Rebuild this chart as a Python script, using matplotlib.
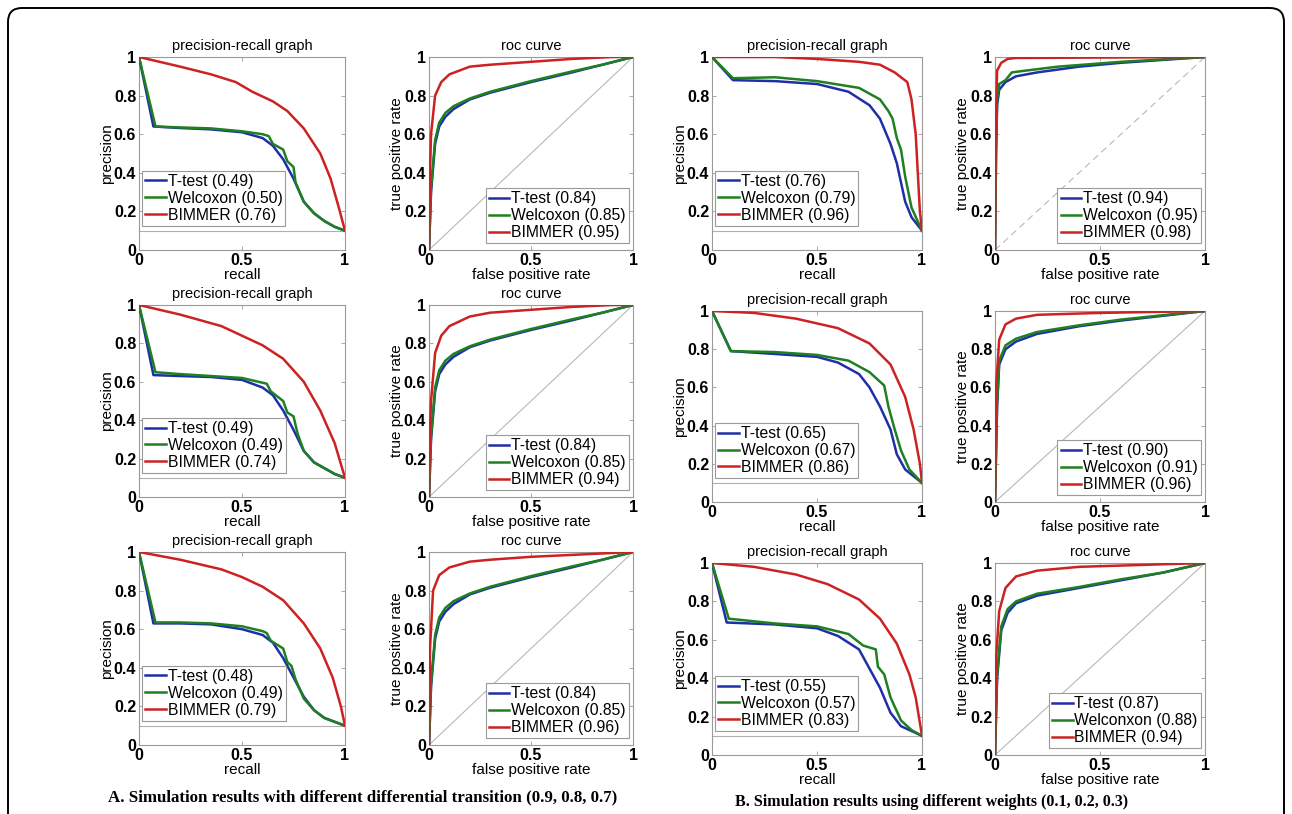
import matplotlib
matplotlib.use("Agg")
import matplotlib.pyplot as plt
from matplotlib.patches import FancyBboxPatch

W, H = 1292, 814
plt.rcParams['font.family'] = ['Liberation Sans', 'DejaVu Sans']

# ---------------- data ----------------
SERIES = ["T-test", "Welcoxon", "BIMMER"]
COLORS = ["#1f2fa8", "#1e8020", "#cc2222"]
PR_BASELINE = 0.1

# ---- A: differential transition 0.9 / 0.8 / 0.7 ----
A1_PR_T = ([0, .07, .2, .35, .5, .6, .65, .7, .75, .8, .85, .9, .95, 1],
           [1, .64, .632, .625, .61, .58, .54, .47, .37, .25, .19, .15, .12, .1])
A1_PR_W = ([0, .08, .2, .35, .5, .6, .63, .65, .7, .72, .75, .76, .8, .85, .9, .95, 1],
           [1, .64, .635, .63, .615, .6, .59, .55, .52, .46, .43, .35, .25, .19, .15, .12, .1])
A1_PR_B = ([0, .2, .35, .47, .55, .65, .72, .8, .88, .93, .97, 1],
           [1, .95, .91, .87, .82, .77, .72, .63, .5, .37, .22, .1])
A1_ROC_T = ([0, .01, .03, .05, .08, .12, .2, .3, .5, .7, .85, 1],
            [0, .3, .55, .64, .69, .73, .78, .815, .87, .92, .96, 1])
A1_ROC_W = ([0, .01, .03, .05, .08, .12, .2, .3, .5, .7, .85, 1],
            [0, .32, .57, .66, .71, .745, .785, .82, .875, .925, .96, 1])
A1_ROC_B = ([0, .005, .01, .03, .06, .1, .2, .3, .5, .7, .9, 1],
            [0, .4, .6, .8, .87, .91, .95, .96, .975, .99, 1, 1])

A2_PR_T = ([0, .07, .2, .35, .5, .6, .65, .7, .75, .8, .85, .9, .95, 1],
           [1, .635, .63, .625, .61, .57, .53, .45, .35, .24, .18, .15, .12, .1])
A2_PR_W = ([0, .08, .2, .35, .5, .58, .62, .64, .7, .72, .75, .77, .8, .85, .9, .95, 1],
           [1, .65, .64, .63, .62, .6, .59, .55, .5, .44, .42, .33, .24, .18, .15, .12, .1])
A2_PR_B = ([0, .2, .4, .5, .6, .7, .8, .88, .95, 1],
           [1, .95, .89, .84, .79, .72, .6, .45, .28, .1])
A2_ROC_T = A1_ROC_T
A2_ROC_W = A1_ROC_W
A2_ROC_B = ([0, .005, .01, .03, .06, .1, .2, .3, .5, .7, .9, 1],
            [0, .35, .5, .75, .84, .89, .94, .96, .975, .99, 1, 1])

A3_PR_T = ([0, .07, .2, .35, .5, .6, .65, .7, .75, .8, .85, .9, .95, 1],
           [1, .63, .63, .625, .6, .57, .53, .45, .35, .25, .18, .14, .12, .1])
A3_PR_W = ([0, .08, .2, .35, .5, .6, .62, .64, .7, .72, .74, .76, .8, .85, .9, .95, 1],
           [1, .635, .635, .63, .615, .59, .58, .54, .5, .43, .41, .34, .24, .18, .14, .12, .1])
A3_PR_B = ([0, .2, .4, .5, .6, .7, .8, .88, .94, .98, 1],
           [1, .96, .91, .87, .82, .75, .63, .5, .35, .2, .1])
A3_ROC_T = A1_ROC_T
A3_ROC_W = A1_ROC_W
A3_ROC_B = ([0, .005, .02, .05, .1, .2, .3, .5, .8, 1],
            [0, .5, .8, .88, .92, .95, .96, .975, .99, 1])

# ---- B: weights 0.1 / 0.2 / 0.3 ----
B1_PR_T = ([0, .1, .3, .5, .65, .75, .8, .85, .88, .9, .92, .95, 1],
           [1, .88, .875, .86, .82, .75, .68, .55, .45, .35, .25, .17, .1])
B1_PR_W = ([0, .1, .3, .5, .7, .8, .84, .86, .88, .9, .92, .95, 1],
           [1, .89, .895, .875, .84, .78, .72, .68, .58, .52, .38, .22, .1])
B1_PR_B = ([0, .3, .5, .7, .8, .87, .93, .95, .97, .98, .99, 1],
           [1, 1, .99, .975, .96, .92, .87, .78, .6, .4, .2, .1])
B1_ROC_T = ([0, .005, .01, .02, .05, .1, .2, .4, .6, .8, 1],
            [0, .5, .75, .83, .87, .9, .92, .95, .97, .985, 1])
B1_ROC_W = ([0, .005, .01, .02, .05, .08, .15, .3, .6, 1],
            [0, .5, .78, .86, .88, .92, .93, .95, .975, 1])
B1_ROC_B = ([0, .003, .01, .03, .06, .1, 1],
            [0, .6, .93, .97, .99, .995, 1])

B2_PR_T = ([0, .09, .3, .5, .6, .7, .75, .8, .85, .88, .92, 1],
           [1, .79, .775, .76, .73, .67, .6, .5, .38, .25, .17, .1])
B2_PR_W = ([0, .09, .3, .5, .65, .75, .82, .84, .87, .9, .94, 1],
           [1, .79, .785, .77, .74, .68, .61, .5, .38, .27, .17, .1])
B2_PR_B = ([0, .2, .4, .6, .75, .85, .92, .96, .99, 1],
           [1, .99, .96, .91, .83, .72, .55, .38, .2, .1])
B2_ROC_T = ([0, .01, .02, .05, .1, .2, .4, .6, .8, 1],
            [0, .5, .72, .8, .84, .88, .92, .95, .975, 1])
B2_ROC_W = ([0, .01, .02, .05, .1, .2, .4, .6, .8, 1],
            [0, .52, .74, .82, .855, .89, .925, .955, .978, 1])
B2_ROC_B = ([0, .005, .02, .05, .1, .2, .5, 1],
            [0, .6, .85, .93, .96, .98, .99, 1])

B3_PR_T = ([0, .07, .3, .5, .6, .7, .75, .8, .85, .9, 1],
           [1, .69, .68, .66, .62, .55, .45, .35, .22, .15, .1])
B3_PR_W = ([0, .08, .3, .5, .65, .72, .78, .79, .82, .85, .9, .95, 1],
           [1, .71, .685, .67, .63, .57, .55, .46, .42, .3, .18, .13, .1])
B3_PR_B = ([0, .2, .4, .55, .7, .8, .88, .94, .97, 1],
           [1, .98, .94, .89, .81, .71, .58, .42, .3, .1])
B3_ROC_T = ([0, .01, .03, .06, .1, .2, .4, .6, .8, 1],
            [0, .4, .65, .74, .79, .83, .87, .91, .95, 1])
B3_ROC_W = ([0, .01, .03, .06, .1, .2, .4, .6, .8, 1],
            [0, .42, .67, .76, .8, .84, .875, .915, .95, 1])
B3_ROC_B = ([0, .005, .02, .05, .1, .2, .4, .7, 1],
            [0, .5, .75, .87, .93, .96, .98, .99, 1])

# legend AUC values
A1_PR_AUC, A1_ROC_AUC = [0.49, 0.50, 0.76], [0.84, 0.85, 0.95]
A2_PR_AUC, A2_ROC_AUC = [0.49, 0.49, 0.74], [0.84, 0.85, 0.94]
A3_PR_AUC, A3_ROC_AUC = [0.48, 0.49, 0.79], [0.84, 0.85, 0.96]
B1_PR_AUC, B1_ROC_AUC = [0.76, 0.79, 0.96], [0.94, 0.95, 0.98]
B2_PR_AUC, B2_ROC_AUC = [0.65, 0.67, 0.86], [0.90, 0.91, 0.96]
B3_PR_AUC, B3_ROC_AUC = [0.55, 0.57, 0.83], [0.87, 0.88, 0.94]
B3_ROC_NAMES = ["T-test", "Welconxon", "BIMMER"]

CAPTION_A = "A. Simulation results with different differential transition (0.9, 0.8, 0.7)"
CAPTION_B = "B. Simulation results using different weights (0.1, 0.2, 0.3)"

# ---------------- layout (pixels: left, top, right, bottom) ----------------
fig = plt.figure(figsize=(W / 100, H / 100), dpi=100)
fig.patch.set_facecolor("white")

def add_ax(l, t, r, b):
    return fig.add_axes([l / W, 1 - b / H, (r - l) / W, (b - t) / H])

GRAY = "#9a9a9a"

def style(ax, kind):
    ax.set_xlim(0, 1)
    ax.set_ylim(0, 1)
    ax.set_xticks([0, 0.5, 1])
    ax.set_xticklabels(["0", "0.5", "1"])
    ax.set_yticks([0, .2, .4, .6, .8, 1])
    ax.set_yticklabels(["0", "0.2", "0.4", "0.6", "0.8", "1"])
    ax.tick_params(direction="in", length=3, width=0.6, color=GRAY, top=True,
                   right=True, labelsize=11.5, pad=2)
    for lab in ax.get_xticklabels() + ax.get_yticklabels():
        lab.set_fontweight("bold")
    for s in ax.spines.values():
        s.set_color(GRAY)
        s.set_linewidth(0.8)
    if kind == "pr":
        ax.set_title("precision-recall graph", fontsize=10.5, pad=5)
        ax.set_xlabel("recall", fontsize=11, labelpad=0.5)
        ax.set_ylabel("precision", fontsize=11, labelpad=0)
    else:
        ax.set_title("roc curve", fontsize=10.5, pad=5)
        ax.set_xlabel("false positive rate", fontsize=11, labelpad=0.5)
        ax.set_ylabel("true positive rate", fontsize=11, labelpad=0)

def draw(ax, kind, curves, aucs, names=SERIES, dashed=False):
    style(ax, kind)
    if kind == "pr":
        ax.axhline(PR_BASELINE, color="#b0b0b0", lw=0.8, zorder=1)
    else:
        ax.plot([0, 1], [0, 1], color="#b8b8b8", lw=0.8,
                ls=(0, (6, 4)) if dashed else "-", zorder=1)
    handles = []
    for (xs, ys), c, n, a in zip(curves, COLORS, names, aucs):
        h, = ax.plot(xs, ys, color=c, lw=1.8, label=f"{n} ({a:.2f})", zorder=3)
        handles.append(h)
    common = dict(fontsize=11.3, handlelength=1.3, handletextpad=0.12,
                  borderpad=0.2, labelspacing=0.12, borderaxespad=0,
                  fancybox=False, framealpha=1)
    if kind == "pr":
        leg = ax.legend(handles=handles, loc="lower left",
                        bbox_to_anchor=(0.015, 0.125), **common)
    else:
        leg = ax.legend(handles=handles, loc="lower right",
                        bbox_to_anchor=(0.98, 0.035), **common)
    leg.get_frame().set_edgecolor(GRAY)
    leg.get_frame().set_linewidth(0.8)

A_PR_X, A_ROC_X, B_PR_X, B_ROC_X = (139, 345), (429, 633), (712, 922), (995, 1205)
A_ROWS = [(57, 250), (305, 497), (552, 745)]
B_ROWS = [(57, 250), (311, 502), (563, 755)]

panels_A = [
    ((A1_PR_T, A1_PR_W, A1_PR_B), A1_PR_AUC, (A1_ROC_T, A1_ROC_W, A1_ROC_B), A1_ROC_AUC),
    ((A2_PR_T, A2_PR_W, A2_PR_B), A2_PR_AUC, (A2_ROC_T, A2_ROC_W, A2_ROC_B), A2_ROC_AUC),
    ((A3_PR_T, A3_PR_W, A3_PR_B), A3_PR_AUC, (A3_ROC_T, A3_ROC_W, A3_ROC_B), A3_ROC_AUC),
]
panels_B = [
    ((B1_PR_T, B1_PR_W, B1_PR_B), B1_PR_AUC, (B1_ROC_T, B1_ROC_W, B1_ROC_B), B1_ROC_AUC),
    ((B2_PR_T, B2_PR_W, B2_PR_B), B2_PR_AUC, (B2_ROC_T, B2_ROC_W, B2_ROC_B), B2_ROC_AUC),
    ((B3_PR_T, B3_PR_W, B3_PR_B), B3_PR_AUC, (B3_ROC_T, B3_ROC_W, B3_ROC_B), B3_ROC_AUC),
]

for (t, b), (pr, pra, roc, roca) in zip(A_ROWS, panels_A):
    draw(add_ax(A_PR_X[0], t, A_PR_X[1], b), "pr", pr, pra)
    draw(add_ax(A_ROC_X[0], t, A_ROC_X[1], b), "roc", roc, roca)

for i, ((t, b), (pr, pra, roc, roca)) in enumerate(zip(B_ROWS, panels_B)):
    draw(add_ax(B_PR_X[0], t, B_PR_X[1], b), "pr", pr, pra)
    names = B3_ROC_NAMES if i == 2 else SERIES
    draw(add_ax(B_ROC_X[0], t, B_ROC_X[1], b), "roc", roc, roca, names=names, dashed=(i == 0))

# captions
fig.text(108 / W, 1 - 797 / H, CAPTION_A, family=["Liberation Serif", "DejaVu Serif"],
         weight="bold", fontsize=12.2, ha="left", va="center")
fig.text(735 / W, 1 - 802 / H, CAPTION_B, family=["Liberation Serif", "DejaVu Serif"],
         weight="bold", fontsize=11.5, ha="left", va="center")

# rounded outer frame
frame = FancyBboxPatch((8, -40), W - 16, H - 8 + 40,
                       boxstyle="round,pad=0,rounding_size=14",
                       transform=None, fill=False, lw=1.4, ec="black")
fig.add_artist(frame)

fig.savefig("out.png", dpi=100)
